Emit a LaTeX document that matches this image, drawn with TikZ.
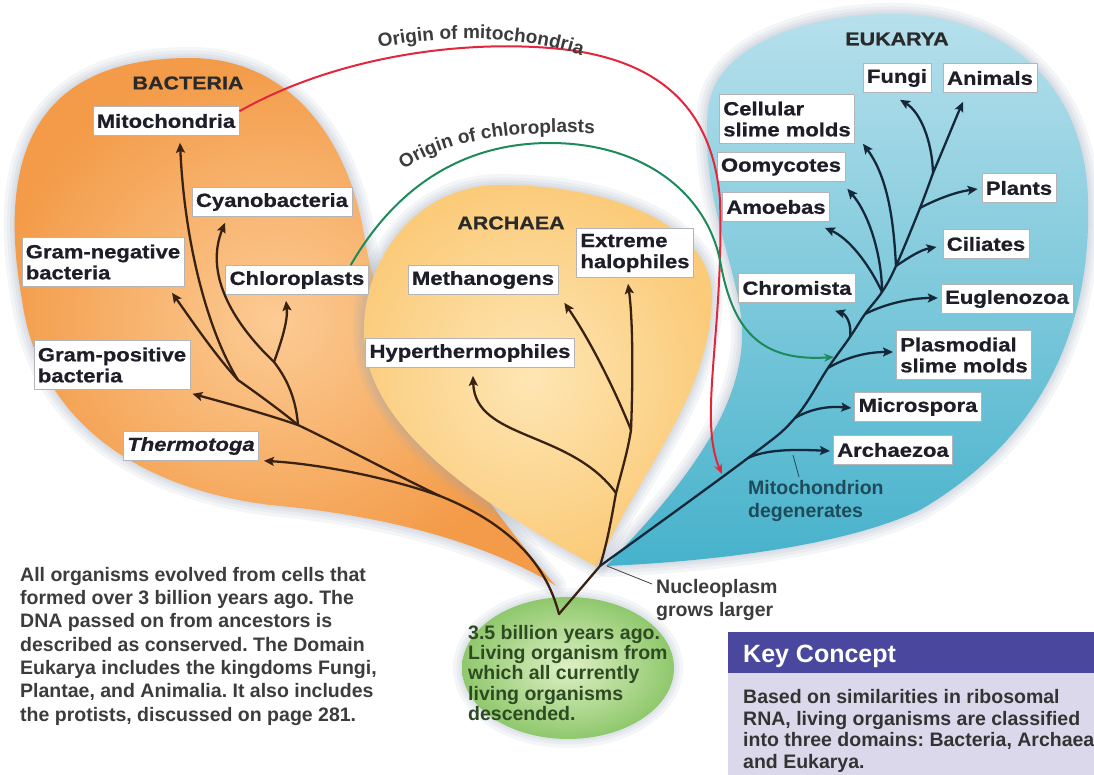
\documentclass[tikz,border=0pt]{standalone}
\usepackage{fontspec}
\setmainfont{Liberation Sans}
\newfontfamily\taxonfamily{Liberation Sans}[FakeStretch=1.16, FakeBold=0.8]
\usetikzlibrary{arrows.meta,decorations.text}

\definecolor{ink}{HTML}{1E1E28}
\definecolor{boxline}{HTML}{B4B4B8}
\definecolor{titleink}{HTML}{2A2A2A}
\definecolor{bark}{HTML}{3A2213}
\definecolor{navy}{HTML}{14283A}
\definecolor{mitored}{HTML}{E2263C}
\definecolor{chlorogreen}{HTML}{1E8A5C}
\definecolor{glowblue}{HTML}{9AA8BA}
\definecolor{bactIn}{HTML}{FCCB94}
\definecolor{bactOut}{HTML}{F39B48}
\definecolor{archIn}{HTML}{FEE6B4}
\definecolor{archOut}{HTML}{FBCB7A}
\definecolor{eukTop}{HTML}{B7E0EC}
\definecolor{eukBot}{HTML}{46B2CB}
\definecolor{rootIn}{HTML}{DDF0C4}
\definecolor{rootOut}{HTML}{8FC86C}
\definecolor{noteink}{HTML}{3C3C3C}
\definecolor{rootink}{HTML}{2E4A22}
\definecolor{degink}{HTML}{1E4B5A}
\definecolor{keyhead}{HTML}{4A489E}
\definecolor{keybody}{HTML}{DCD8EC}
\definecolor{keyink}{HTML}{333333}

\newcommand\taxonfont{\taxonfamily\bfseries\fontsize{19}{21}\selectfont}
\newcommand\domainfont{\taxonfamily\bfseries\fontsize{18.5}{20}\selectfont}
\newcommand\notefont{\bfseries\fontsize{19.5}{23.3}\selectfont}
\newcommand\curvefont{\bfseries\fontsize{19}{20}\selectfont}

\begin{document}
\frenchspacing
\begin{tikzpicture}[line join=round, x=1pt, y=-1pt]
    \tikzset{
        taxon/.style={draw=boxline, line width=0.6pt, fill=white, text=ink, font=\taxonfont,
            inner xsep=4pt, inner ysep=0pt, minimum height=29pt},
        taxon2/.style={taxon, align=left, minimum height=49pt},
        domaintitle/.style={text=titleink, font=\domainfont},
        trunk/.style={draw=bark, line width=2.3pt, line cap=round},
        branch/.style={trunk, -{Stealth[length=10pt, width=9pt, inset=2pt]}},
        ebranch/.style={branch, draw=navy},
        glow/.style={draw=glowblue, opacity=0.11},
        pointer/.style={line width=0.8pt},
        note/.style={font=\notefont, text=noteink, align=left, inner sep=0pt, anchor=north west},
    }
    \useasboundingbox (0,0) rectangle (1094,775);
    \fill[white] (0,0) rectangle (1094,775);

    % bacteria domain
    \foreach \w in {22,15,9,4}{
        \draw[glow, line width=\w pt] (555,585) .. controls (480,540) and (380,515) .. (270,505)
            .. controls (150,490) and (40,430) .. (22,300) .. controls (-5,150) and (40,58) .. (190,58)
            .. controls (290,58) and (350,140) .. (365,240) .. controls (380,330) and (440,450) .. (555,585) -- cycle;
    }
    \shade[inner color=bactIn, outer color=bactOut] (555,585) .. controls (480,540) and (380,515) .. (270,505)
        .. controls (150,490) and (40,430) .. (22,300) .. controls (-5,150) and (40,58) .. (190,58)
        .. controls (290,58) and (350,140) .. (365,240) .. controls (380,330) and (440,450) .. (555,585) -- cycle;

    % archaea domain
    \foreach \w in {22,15,9,4}{
        \draw[glow, line width=\w pt] (597,567) .. controls (530,530) and (400,460) .. (370,370)
            .. controls (345,290) and (400,185) .. (500,185) .. controls (620,185) and (715,230) .. (712,300)
            .. controls (708,400) and (640,470) .. (597,567) -- cycle;
    }
    \shade[inner color=archIn, outer color=archOut] (597,567) .. controls (530,530) and (400,460) .. (370,370)
        .. controls (345,290) and (400,185) .. (500,185) .. controls (620,185) and (715,230) .. (712,300)
        .. controls (708,400) and (640,470) .. (597,567) -- cycle;

    % eukarya domain
    \foreach \w in {22,15,9,4}{
        \draw[glow, line width=\w pt] (606,566) .. controls (660,510) and (745,420) .. (742,330)
            .. controls (740,270) and (700,200) .. (708,110) .. controls (715,40) and (820,12) .. (900,14)
            .. controls (1000,16) and (1085,80) .. (1088,200) .. controls (1092,330) and (1040,440) .. (920,510)
            .. controls (840,548) and (700,562) .. (606,566) -- cycle;
    }
    \shade[top color=eukTop, bottom color=eukBot] (606,566) .. controls (660,510) and (745,420) .. (742,330)
        .. controls (740,270) and (700,200) .. (708,110) .. controls (715,40) and (820,12) .. (900,14)
        .. controls (1000,16) and (1085,80) .. (1088,200) .. controls (1092,330) and (1040,440) .. (920,510)
        .. controls (840,548) and (700,562) .. (606,566) -- cycle;

    % common ancestor
    \foreach \w in {18,11,5}{
        \draw[glow, line width=\w pt] (568,668) ellipse [x radius=106, y radius=71];
    }
    \shade[inner color=rootIn, outer color=rootOut] (568,668) ellipse [x radius=106, y radius=71];

    % labels
    \node[domaintitle] (bactTitle) at (188,83) {BACTERIA};
    \node[taxon] (mito) at (166,121) {Mitochondria};
    \node[taxon] (cyano) at (272,202) {Cyanobacteria};
    \node[taxon2] (gramneg) at (103,262) {Gram-negative\\bacteria};
    \node[taxon] (chloro) at (297,280) {Chloroplasts};
    \node[taxon2] (grampos) at (112,365) {Gram-positive\\bacteria};
    \node[taxon, font=\taxonfont\itshape] (thermo) at (191,446) {Thermotoga};

    \node[domaintitle] (archTitle) at (511,223) {ARCHAEA};
    \node[taxon] (methano) at (483,280) {Methanogens};
    \node[taxon2] (halo) at (635,253) {Extreme\\halophiles};
    \node[taxon] (hyper) at (470,353) {Hyperthermophiles};

    \node[domaintitle] (eukTitle) at (897,39) {EUKARYA};
    \node[taxon] (fungi) at (897,78) {Fungi};
    \node[taxon] (animals) at (990,78) {Animals};
    \node[taxon2] (cellslime) at (787,119) {Cellular\\slime molds};
    \node[taxon] (oomy) at (781,167) {Oomycotes};
    \node[taxon] (amoeba) at (776,207) {Amoebas};
    \node[taxon] (plants) at (1019,188) {Plants};
    \node[taxon] (ciliates) at (986,244) {Ciliates};
    \node[taxon] (chromista) at (797,288) {Chromista};
    \node[taxon] (eugleno) at (1007,299) {Euglenozoa};
    \node[taxon2] (plasmo) at (964,355) {Plasmodial\\slime molds};
    \node[taxon] (micro) at (918,407) {Microspora};
    \node[taxon] (archaezoa) at (893,450) {Archaezoa};

    % arrow tips under the labels
    \coordinate (mitoTip) at ([shift={(14,7)}]mito.south);
    \coordinate (cyanoTip) at ([shift={(-47,6)}]cyano.south);
    \coordinate (gramnegTip) at ([shift={(69,6)}]gramneg.south);
    \coordinate (chloroTip) at ([shift={(-11,6)}]chloro.south);
    \coordinate (gramposTip) at ([shift={(2,4)}]grampos.south east);
    \coordinate (thermoTip) at ([shift={(5,0)}]thermo.south east);
    \coordinate (methanoTip) at ([shift={(6,8)}]methano.south east);
    \coordinate (haloTip) at ([shift={(-7,6)}]halo.south);
    \coordinate (hyperTip) at ([shift={(3,8)}]hyper.south);
    \coordinate (fungiTip) at ([shift={(3,7)}]fungi.south);
    \coordinate (animalsTip) at ([shift={(-27,9)}]animals.south);
    \coordinate (cellslimeTip) at ([shift={(8,0)}]cellslime.south east);
    \coordinate (oomyTip) at ([shift={(2,7)}]oomy.south east);
    \coordinate (amoebaTip) at ([shift={(-5,6)}]amoeba.south east);
    \coordinate (plantsTip) at ([shift={(-4,1)}]plants.west);
    \coordinate (ciliatesTip) at ([shift={(-6,3)}]ciliates.west);
    \coordinate (chromistaTip) at ([shift={(38,8)}]chromista.south);
    \coordinate (euglenoTip) at ([shift={(-3,-1)}]eugleno.west);
    \coordinate (plasmoTip) at ([shift={(-3,-3)}]plasmo.west);
    \coordinate (microTip) at ([shift={(-3,1)}]micro.west);
    \coordinate (archaezoaTip) at ([shift={(-3,1)}]archaezoa.west);

    % branching points
    \coordinate (root) at (559,614);
    \coordinate (b0) at (440,496);
    \coordinate (b1) at (298,425);
    \coordinate (b2) at (238,380);
    \coordinate (b3) at (274,362);
    \coordinate (split) at (600,566);
    \coordinate (a1) at (616,493);
    \coordinate (a2) at (631,430);
    \coordinate (e1) at (748,458);
    \coordinate (e2) at (795,418);
    \coordinate (e3) at (828,368);
    \coordinate (e4) at (850,337);
    \coordinate (e5) at (865,314);
    \coordinate (e6) at (882,292);
    \coordinate (e7) at (896,266);
    \coordinate (e8) at (920,208);
    \coordinate (e9) at (933,173);

    % bacteria tree
    \draw[trunk] (root) .. controls (545,560) and (505,522) .. (b0);
    \draw[trunk] (b0) .. controls (390,472) and (340,445) .. (b1);
    \draw[branch] (b0) .. controls (390,478) and (320,464) .. (thermoTip);
    \draw[branch] (b1) .. controls (260,412) and (215,400) .. (gramposTip);
    \draw[trunk] (b1) .. controls (280,410) and (255,392) .. (b2);
    \draw[trunk] (b1) .. controls (296,400) and (288,380) .. (b3);
    \draw[branch] (b2) .. controls (215,355) and (190,318) .. (gramnegTip);
    \draw[branch] (b2) .. controls (210,335) and (185,250) .. (mitoTip);
    \draw[branch] (b3) .. controls (230,320) and (205,272) .. (cyanoTip);
    \draw[branch] (b3) .. controls (282,340) and (288,320) .. (chloroTip);

    % archaea tree
    \draw[trunk] (root) -- (split);
    \draw[trunk] (split) .. controls (608,540) and (612,515) .. (a1);
    \draw[trunk] (a1) .. controls (622,470) and (628,450) .. (a2);
    \draw[branch] (a2) .. controls (633,380) and (633,320) .. (haloTip);
    \draw[branch] (a2) .. controls (615,390) and (590,340) .. (methanoTip);
    \draw[branch] (a1) .. controls (570,430) and (475,440) .. (hyperTip);

    % eukarya tree
    \draw[trunk, draw=navy] plot[smooth, tension=0.6] coordinates {(split) (e1) (e2) (e3) (e4) (e5) (e6) (e7) (e8) (e9)};
    \draw[ebranch] (e9) .. controls (945,145) and (955,120) .. (animalsTip);
    \draw[ebranch] (e9) .. controls (932,140) and (920,112) .. (fungiTip);
    \draw[ebranch] (e8) .. controls (935,200) and (955,192) .. (plantsTip);
    \draw[ebranch] (e7) .. controls (908,258) and (920,250) .. (ciliatesTip);
    \draw[ebranch] (e7) .. controls (894,230) and (890,180) .. (cellslimeTip);
    \draw[ebranch] (e6) .. controls (882,258) and (870,215) .. (oomyTip);
    \draw[ebranch] (e6) .. controls (868,262) and (848,238) .. (amoebaTip);
    \draw[ebranch] (e5) .. controls (885,304) and (910,298) .. (euglenoTip);
    \draw[ebranch] (e4) .. controls (852,322) and (845,314) .. (chromistaTip);
    \draw[ebranch] (e3) .. controls (845,358) and (865,352) .. (plasmoTip);
    \draw[ebranch] (e2) .. controls (812,408) and (830,406) .. (microTip);
    \draw[ebranch] (e1) .. controls (765,450) and (790,449) .. (archaezoaTip);

    % endosymbiosis
    \coordinate (mitoHit) at (722,474);
    \coordinate (chloroHit) at (834,357);
    \draw[draw=mitored, line width=2pt, -{Stealth[length=10pt, width=8pt]}] ([yshift=-5pt]mito.north east)
        .. controls (330,60) and (450,40) .. (550,48) .. controls (650,56) and (712,100) .. (720,200)
        .. controls (724,330) and (698,420) .. (mitoHit);
    \draw[draw=chlorogreen, line width=2pt, -{Stealth[length=10pt, width=8pt]}] ([xshift=-18pt]chloro.north east)
        .. controls (400,180) and (470,143) .. (550,143) .. controls (640,143) and (705,190) .. (720,260)
        .. controls (732,330) and (760,362) .. (chloroHit);
    \path[decorate, decoration={text along path, text align=center, text color=noteink,
        text={|\curvefont|Origin of mitochondria}}] (362,52) .. controls (430,34) and (530,32) .. (598,62);
    \path[decorate, decoration={text along path, text align=center, text color=noteink,
        text={|\curvefont|Origin of chloroplasts}}] (393,178) .. controls (430,145) and (500,128) .. (608,134);

    % notes
    \node[note, text=degink] (mitodeg) at (748,480) {Mitochondrion\\degenerates};
    \coordinate (degPt) at (793,455);
    \draw[pointer, draw=degink] (degPt) -- ([shift={(51,-3)}]mitodeg.north west);
    \node[note] (nucleo) at (656,579) {Nucleoplasm\\grows larger};
    \draw[pointer, draw=noteink] ([shift={(7,0)}]split) -- ([shift={(-4,5)}]nucleo.north west);
    \node[note, text=rootink, font=\bfseries\fontsize{19.5}{20.3}\selectfont] (ancestor) at (468,625)
        {3.5 billion years ago.\\Living organism from\\which all currently\\living organisms\\descended.};
    \node[note] (summary) at (20,567) {All organisms evolved from cells that\\formed over 3 billion years ago. The\\DNA passed on from ancestors is\\described as conserved. The Domain\\Eukarya includes the kingdoms Fungi,\\Plantae, and Animalia. It also includes\\the protists, discussed on page 281.};

    % key concept
    \fill[keyhead] (728,632) rectangle (1100,673);
    \fill[keybody] (728,673) rectangle (1100,780);
    \node[font=\bfseries\fontsize{25}{28}\selectfont, text=white, anchor=base west, inner sep=0pt] (keytitle) at (743,662) {Key Concept};
    \node[note, text=keyink, font=\bfseries\fontsize{19.5}{21.7}\selectfont] (keytext) at (743,689)
        {Based on similarities in ribosomal\\RNA, living organisms are classified\\into three domains: Bacteria, Archaea,\\and Eukarya.};
\end{tikzpicture}
\end{document}
